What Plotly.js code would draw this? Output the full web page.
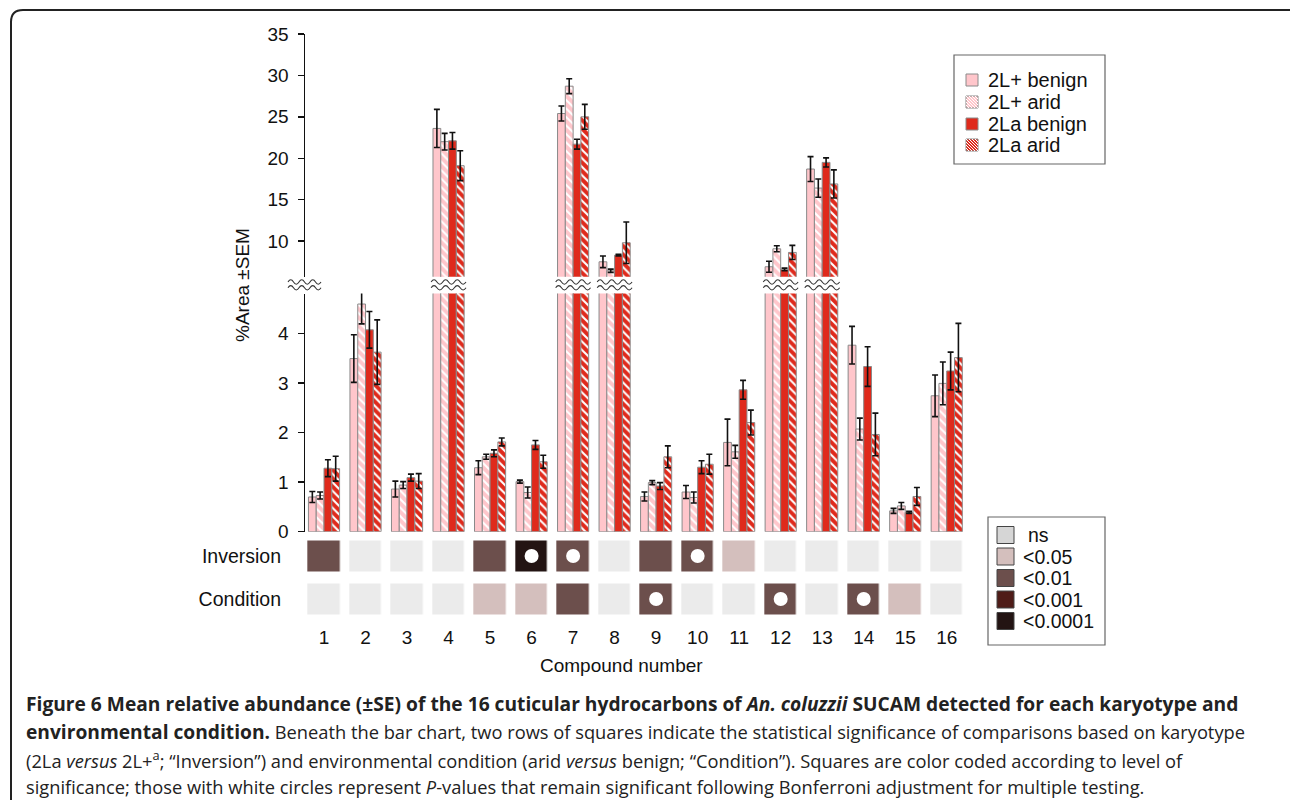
<!DOCTYPE html>
<html>
<head>
<meta charset="utf-8">
<script src="https://cdn.plot.ly/plotly-3.0.1.min.js"></script>
<style>html,body{margin:0;padding:0;background:#fff;}#chart{width:1290px;height:800px;}</style>
</head>
<body>
<div id="chart"></div>
<script>
// ---------- data ----------
const compounds = [1,2,3,4,5,6,7,8,9,10,11,12,13,14,15,16];
const seriesNames = ["2L+ benign","2L+ arid","2La benign","2La arid"];
const plusBenign    = [0.70,3.49,0.86,23.6,1.29,1.01,25.4,7.5,0.71,0.80,1.80,6.9,18.7,3.76,0.42,2.74];
const plusBenignSE  = [0.11,0.48,0.16,2.3,0.14,0.03,0.9,0.7,0.09,0.13,0.47,0.66,1.5,0.38,0.05,0.42];
const plusArid      = [0.73,4.59,0.94,22.0,1.51,0.79,28.7,6.42,0.99,0.69,1.61,9.07,16.4,2.07,0.52,2.99];
const plusAridSE    = [0.07,0.40,0.07,1.0,0.05,0.11,0.9,0.2,0.04,0.11,0.13,0.36,1.1,0.22,0.07,0.43];
const laBenign      = [1.28,4.07,1.09,22.1,1.58,1.75,21.7,8.3,0.92,1.30,2.86,6.58,19.5,3.33,0.39,3.24];
const laBenignSE    = [0.17,0.37,0.07,1.0,0.07,0.09,0.6,0.1,0.07,0.13,0.19,0.16,0.55,0.40,0.02,0.38];
const laArid        = [1.27,3.62,1.02,19.1,1.81,1.41,25.0,9.8,1.51,1.36,2.20,8.63,16.9,1.96,0.71,3.51];
const laAridSE      = [0.25,0.65,0.15,1.8,0.08,0.13,1.5,2.5,0.22,0.20,0.25,0.85,1.7,0.43,0.18,0.69];

// significance codes: 0 ns, 1 <0.05, 2 <0.01, 3 <0.001, 4 <0.0001
const sigRows = ["Inversion","Condition"];
const inversionSig  = [2,0,0,0,2,4,2,0,2,2,1,0,0,0,0,0];
const conditionSig  = [0,0,0,0,1,1,2,0,2,0,0,2,0,2,1,0];
const inversionBonf = [0,0,0,0,0,1,1,0,0,1,0,0,0,0,0,0];
const conditionBonf = [0,0,0,0,0,0,0,0,1,0,0,1,0,1,0,0];
const sigLabels = ["ns","<0.05","<0.01","<0.001","<0.0001"];
const sigColors = ["#ebebeb","#d4bfbd","#6c4f4c","#4f1c18","#231413"];
const sigLegendColors = ["#d6d6d6","#d4bfbd","#6c4f4c","#4f1c18","#231413"];

const lowerTicks = [0,1,2,3,4];
const upperTicks = [10,15,20,25,30,35];

// ---------- helpers ----------
const W = 1290, H = 800;
const px = x => x / W;
const py = y => 1 - y / H;
const FONT = "Liberation Sans, Arial, sans-serif";
const lowerRange = [0, 4.8];
const upperRange = [5.7, 35];

const values = [plusBenign, plusArid, laBenign, laArid];
const errors = [plusBenignSE, plusAridSE, laBenignSE, laAridSE];
const PINK = "#ffc6cb", RED = "#df2a1c";
const styles = [
  {color: PINK, pattern: {shape: ""}},
  {color: PINK, pattern: {shape: "\\", bgcolor: PINK, fgcolor: "#ffffff", size: 6, solidity: 0.35}},
  {color: RED, pattern: {shape: ""}},
  {color: RED, pattern: {shape: "\\", bgcolor: RED, fgcolor: "#ffffff", size: 6, solidity: 0.35}}
];

const traces = [];
["y","y2"].forEach(ya => {
  seriesNames.forEach((name, k) => {
    traces.push({
      type: "bar", name: name, x: compounds, y: values[k], xaxis: "x", yaxis: ya,
      marker: {color: styles[k].color, pattern: styles[k].pattern, line: {color: "#8a8a8a", width: 1}},
      error_y: {type: "data", array: errors[k], visible: true, color: "#111", thickness: 1.6, width: 3},
      hoverinfo: "skip", showlegend: false
    });
  });
});

traces.push({
  type: "heatmap", x: compounds, y: sigRows, z: [inversionSig, conditionSig],
  xaxis: "x", yaxis: "y3", zmin: 0, zmax: 4, showscale: false, xgap: 9.5, ygap: 12,
  colorscale: [[0,sigColors[0]],[0.125,sigColors[0]],[0.125,sigColors[1]],[0.375,sigColors[1]],
               [0.375,sigColors[2]],[0.625,sigColors[2]],[0.625,sigColors[3]],[0.875,sigColors[3]],
               [0.875,sigColors[4]],[1,sigColors[4]]],
  hoverinfo: "skip"
});
const cx = [], cy = [];
compounds.forEach((c,i) => {
  if (inversionBonf[i]) { cx.push(c); cy.push(sigRows[0]); }
  if (conditionBonf[i]) { cx.push(c); cy.push(sigRows[1]); }
});
traces.push({type: "scatter", mode: "markers", x: cx, y: cy, xaxis: "x", yaxis: "y3",
  marker: {symbol: "circle", color: "#ffffff", size: 14, line: {width: 0}}, hoverinfo: "skip", showlegend: false});

// ---------- shapes ----------
const shapes = [];
function wave(x0, x1, yc, amp, n) {
  const step = (x1 - x0) / n;
  let d = "M" + x0 + "," + yc;
  for (let i = 0; i < n; i++) {
    const xa = x0 + step * i, xb = xa + step;
    const ctrl = yc + (i % 2 === 0 ? 2 * amp : -2 * amp);
    d += " Q" + (xa + step / 2) + "," + ctrl + " " + xb + "," + yc;
  }
  return d;
}
const waveY = [py(282), py(287.8)];
const amp = 2.2 / H;
// axis break
waveY.forEach(yc => shapes.push({type: "path", xref: "paper", yref: "paper",
  path: wave(px(288), px(321), yc, amp, 6), line: {color: "#333", width: 1.1}}));
// broken bar groups
compounds.forEach((c,i) => {
  const m = Math.max(plusBenign[i], plusArid[i], laBenign[i], laArid[i]);
  if (m > lowerRange[1]) {
    waveY.forEach(yc => shapes.push({type: "path", xref: "x", yref: "paper",
      path: wave(c - 0.42, c + 0.42, yc, amp, 6), line: {color: "#333", width: 1.1}}));
  }
});

// figure border
shapes.push({type: "path", xref: "paper", yref: "paper",
  path: "M" + px(11) + "," + py(800) + " L" + px(11) + "," + py(22) + " Q" + px(11) + "," + py(10) + " " + px(23) + "," + py(10) + " L" + px(1290) + "," + py(10),
  line: {color: "#222", width: 2}});

const annotations = [];
// bar legend
shapes.push({type: "rect", xref: "paper", yref: "paper", x0: px(954), x1: px(1105), y0: py(164), y1: py(55),
  line: {color: "#666", width: 1.2}, fillcolor: "rgba(0,0,0,0)"});
const legY = [80, 102, 124, 145];
seriesNames.forEach((name, k) => {
  const y0 = legY[k] - 6, x0 = 966, s = 12;
  shapes.push({type: "rect", xref: "paper", yref: "paper", x0: px(x0), x1: px(x0 + s), y0: py(y0 + s), y1: py(y0),
    fillcolor: styles[k].color, line: {color: "#8a8a8a", width: 1}});
  if (styles[k].pattern.shape) {
    for (let off = -9; off <= 9; off += 3) {
      const xs = Math.max(x0, x0 - off), xe = Math.min(x0 + s, x0 + s - off);
      if (xe - xs < 1) continue;
      shapes.push({type: "line", xref: "paper", yref: "paper",
        x0: px(xs), y0: py(y0 + (xs - x0) + off), x1: px(xe), y1: py(y0 + (xe - x0) + off),
        line: {color: "#ffffff", width: 1}});
    }
  }
  annotations.push({xref: "paper", yref: "paper", x: px(986), y: py(legY[k]), xanchor: "left", yanchor: "middle",
    text: name, showarrow: false, font: {family: FONT, size: 20, color: "#111"}});
});

// significance legend
shapes.push({type: "rect", xref: "paper", yref: "paper", x0: px(988), x1: px(1105), y0: py(645), y1: py(517),
  line: {color: "#666", width: 1.2}, fillcolor: "rgba(0,0,0,0)"});
const sigLegY = [535, 556.5, 578, 599.5, 621];
sigLabels.forEach((lab, k) => {
  shapes.push({type: "rect", xref: "paper", yref: "paper", x0: px(997), x1: px(1014),
    y0: py(sigLegY[k] + 8.5), y1: py(sigLegY[k] - 8.5), fillcolor: sigLegendColors[k], line: {color: "#444", width: 1}});
  annotations.push({xref: "paper", yref: "paper", x: px(k === 0 ? 1026 : 1021), y: py(sigLegY[k]), xanchor: "left", yanchor: "middle",
    text: lab, showarrow: false, font: {family: FONT, size: 19.5, color: "#111"}});
});

// axis titles
annotations.push({xref: "paper", yref: "paper", x: px(243), y: py(285), xanchor: "center", yanchor: "middle",
  textangle: -90, text: "%Area ±SEM", showarrow: false, font: {family: FONT, size: 19, color: "#111"}});
annotations.push({xref: "paper", yref: "paper", x: px(621), y: py(665), xanchor: "center", yanchor: "middle",
  text: "Compound number", showarrow: false, font: {family: FONT, size: 19, color: "#111"}});

// caption
const CAP = "Open Sans, Noto Sans, sans-serif";
const B = t => "<span style=\"font-size:19.2px\"><b>" + t + "</b></span>";
const captionLines = [
  B("Figure 6 Mean relative abundance (±SE) of the 16 cuticular hydrocarbons of <i>An. coluzzii</i> SUCAM detected for each karyotype and"),
  B("environmental condition.") + " Beneath the bar chart, two rows of squares indicate the statistical significance of comparisons based on karyotype",
  "(2La <i>versus</i> 2L+<sup>a</sup>; “Inversion”) and environmental condition (arid <i>versus</i> benign; “Condition”). Squares are color coded according to level of",
  "significance; those with white circles represent <i>P</i>-values that remain significant following Bonferroni adjustment for multiple testing."
];
const capY = [703, 731, 759, 786];
captionLines.forEach((t, i) => annotations.push({xref: "paper", yref: "paper", x: px(24), y: py(capY[i]),
  xanchor: "left", yanchor: "middle", text: t, showarrow: false, font: {family: CAP, size: 18.3, color: "#222"}}));

const axisCommon = {showgrid: false, zeroline: false, showline: true, linecolor: "#111", linewidth: 1.5,
  ticks: "outside", ticklen: 6, tickwidth: 1.5, tickcolor: "#111", ticklabelstandoff: 5,
  tickfont: {family: FONT, size: 19, color: "#111"}, fixedrange: true};

const layout = {
  width: W, height: H, margin: {l: 0, r: 0, t: 0, b: 0},
  paper_bgcolor: "#fff", plot_bgcolor: "rgba(0,0,0,0)", showlegend: false,
  barmode: "group", bargap: 0.25, bargroupgap: 0,
  font: {family: FONT, color: "#111"},
  xaxis: {domain: [px(305), px(967.5)], range: [0.542, 16.5], anchor: "y3", tickvals: compounds,
    showgrid: false, zeroline: false, showline: false, ticks: "", ticklabelstandoff: 3,
    tickfont: {family: FONT, size: 19, color: "#111"}, fixedrange: true},
  yaxis: Object.assign({}, axisCommon, {domain: [py(531.7), py(293.6)], range: lowerRange, tickvals: lowerTicks, anchor: "x"}),
  yaxis2: Object.assign({}, axisCommon, {domain: [py(276.7), py(34)], range: upperRange, tickvals: upperTicks, anchor: "x"}),
  yaxis3: {domain: [py(620.5), py(534.5)], type: "category", autorange: "reversed", anchor: "x",
    showgrid: false, zeroline: false, showline: false, ticks: "", ticklabelstandoff: 23,
    tickfont: {family: FONT, size: 19.5, color: "#111"}, fixedrange: true},
  shapes: shapes, annotations: annotations
};

Plotly.newPlot("chart", traces, layout, {displayModeBar: false, staticPlot: true});
</script>
</body>
</html>
